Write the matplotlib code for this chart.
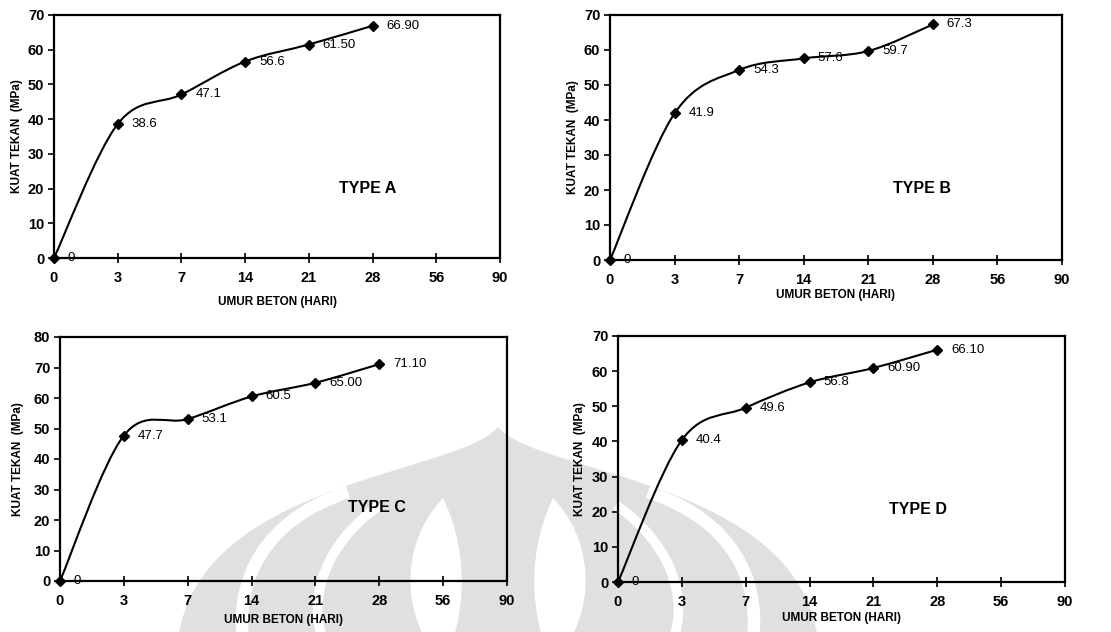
import matplotlib
matplotlib.use('Agg')
import matplotlib.pyplot as plt
from matplotlib.path import Path
from matplotlib.patches import PathPatch
import numpy as np

plt.rcParams['font.family'] = ['Liberation Sans', 'DejaVu Sans']

# data
umur = ['0', '3', '7', '14', '21', '28', '56', '90']
tipe = ['TYPE A', 'TYPE B', 'TYPE C', 'TYPE D']
kuat_a = [0, 38.6, 47.1, 56.6, 61.50, 66.90]
kuat_b = [0, 41.9, 54.3, 57.6, 59.7, 67.3]
kuat_c = [0, 47.7, 53.1, 60.5, 65.00, 71.10]
kuat_d = [0, 40.4, 49.6, 56.8, 60.90, 66.10]
label_a = ['0', '38.6', '47.1', '56.6', '61.50', '66.90']
label_b = ['0', '41.9', '54.3', '57.6', '59.7', '67.3']
label_c = ['0', '47.7', '53.1', '60.5', '65.00', '71.10']
label_d = ['0', '40.4', '49.6', '56.8', '60.90', '66.10']
y_max = [70, 70, 80, 70]

W, H = 1111, 632
# axes box in pixels: left, top, right, bottom
boxes = [(54, 15, 500, 258), (610, 15, 1062, 260),
         (60, 337, 507, 581), (618, 336, 1065, 582)]
type_pos = [(4.93, 20), (4.83, 20.5), (4.96, 24), (4.7, 20.5)]
xlab_off = [38, 29, 33, 30]
ylab_off = [31, 31, 36, 32]


def smooth_path(x, y):
    # excel-like smoothed line (catmull-rom as cubic bezier)
    p = np.column_stack([x, y]).astype(float)
    p_ext = np.vstack([p[0], p, p[-1]])
    verts = [p[0]]
    codes = [Path.MOVETO]
    for i in range(len(p) - 1):
        p0, p1, p2, p3 = p_ext[i], p_ext[i + 1], p_ext[i + 2], p_ext[i + 3]
        c1 = p1 + (p2 - p0) / 6.0
        c2 = p2 - (p3 - p1) / 6.0
        verts += [c1, c2, p2]
        codes += [Path.CURVE4] * 3
    return Path(verts, codes)


fig = plt.figure(figsize=(W / 100, H / 100), dpi=100)
fig.patch.set_facecolor('white')

# faint watermark behind the charts
bg = fig.add_axes([0, 0, 1, 1], zorder=0)
bg.set_xlim(0, W)
bg.set_ylim(H, 0)
bg.axis('off')
cx = 498
grey = '#e0e0e0'
dome = Path([(cx, 427), (cx - 40, 475), (cx - 300, 480), (cx - 320, 640),
             (cx + 320, 640), (cx + 300, 480), (cx + 40, 475), (cx, 427), (cx, 427)],
            [Path.MOVETO, Path.CURVE4, Path.CURVE4, Path.CURVE4,
             Path.LINETO, Path.CURVE4, Path.CURVE4, Path.CURVE4, Path.CLOSEPOLY])
bg.add_patch(PathPatch(dome, facecolor=grey, edgecolor='none'))
for s in (-1, 1):
    gap = Path([(cx + s * 150, 492), (cx + s * 235, 520), (cx + s * 262, 580), (cx + s * 255, 640)],
               [Path.MOVETO, Path.CURVE4, Path.CURVE4, Path.CURVE4])
    bg.add_patch(PathPatch(gap, facecolor='none', edgecolor='white', lw=9))
    gap2 = Path([(cx + s * 118, 505), (cx + s * 175, 545), (cx + s * 190, 600), (cx + s * 175, 640)],
                [Path.MOVETO, Path.CURVE4, Path.CURVE4, Path.CURVE4])
    bg.add_patch(PathPatch(gap2, facecolor='none', edgecolor='white', lw=7))
    petal = Path([(cx + s * 55, 498), (cx + s * 95, 540), (cx + s * 95, 600), (cx + s * 72, 640),
                  (cx + s * 45, 640), (cx + s * 30, 590), (cx + s * 35, 540), (cx + s * 55, 498),
                  (cx + s * 55, 498)],
                 [Path.MOVETO, Path.CURVE4, Path.CURVE4, Path.CURVE4, Path.LINETO,
                  Path.CURVE4, Path.CURVE4, Path.CURVE4, Path.CLOSEPOLY])
    bg.add_patch(PathPatch(petal, facecolor='white', edgecolor='none'))

series = [kuat_a, kuat_b, kuat_c, kuat_d]
labels = [label_a, label_b, label_c, label_d]

for i in range(4):
    l, t, r, b = boxes[i]
    ax = fig.add_axes([l / W, (H - b) / H, (r - l) / W, (b - t) / H], zorder=1)
    ax.set_facecolor('none')
    xs = np.arange(len(series[i]))
    ax.add_patch(PathPatch(smooth_path(xs, series[i]), facecolor='none',
                           edgecolor='black', lw=1.5, clip_on=False))
    ax.plot(xs, series[i], linestyle='none', marker='D', ms=5, color='black', clip_on=False)
    for x, y, txt in zip(xs, series[i], labels[i]):
        ax.annotate(txt, (x, y), xytext=(10, 0), textcoords='offset points',
                    ha='left', va='center', fontsize=9.5)
    ax.text(type_pos[i][0], type_pos[i][1], tipe[i], ha='center', va='center',
            fontsize=11.5, fontweight='bold')

    ax.set_xlim(0, len(umur) - 1)
    ax.set_ylim(0, y_max[i])
    ax.set_xticks(np.arange(len(umur)))
    ax.set_xticklabels(umur)
    ax.set_yticks(np.arange(0, y_max[i] + 1, 10))
    for sp in ax.spines.values():
        sp.set_linewidth(1.6)
    ax.tick_params(axis='x', direction='inout', length=7, width=1.2, pad=6, labelsize=10.5)
    ax.tick_params(axis='y', direction='out', length=4, width=1.2, pad=3, labelsize=10.5)
    for tl in ax.get_xticklabels() + ax.get_yticklabels():
        tl.set_fontweight('bold')

    ax.set_xlabel('UMUR BETON (HARI)', fontsize=8.5, fontweight='bold')
    ax.set_ylabel('KUAT TEKAN  (MPa)', fontsize=8.5, fontweight='bold')
    ax.xaxis.set_label_coords(0.5, -xlab_off[i] / (b - t))
    ax.yaxis.set_label_coords(-ylab_off[i] / (r - l), 0.5)

fig.savefig('out.png', dpi=100)
